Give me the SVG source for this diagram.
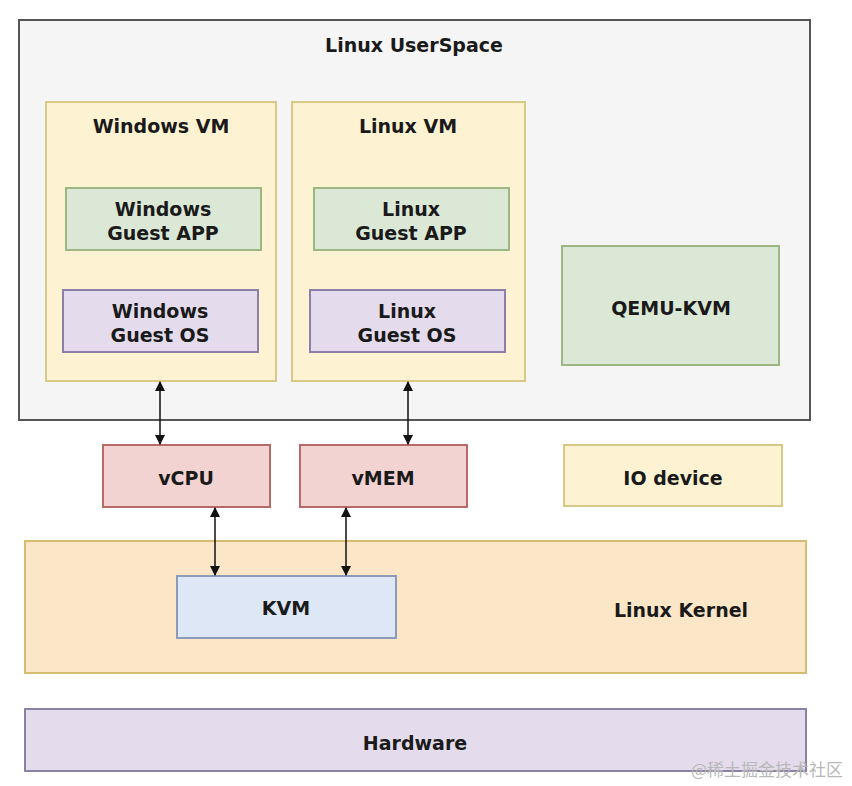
<svg xmlns="http://www.w3.org/2000/svg" width="852" height="786" viewBox="0 0 852 786">
<defs>
<style>
text{font-family:"DejaVu Sans","Liberation Sans",sans-serif;font-weight:bold;font-size:19px;fill:#1a1a1a;text-anchor:middle;dominant-baseline:central}
.us{fill:#f5f5f5;stroke:#555;stroke-width:2}
.vm{fill:#fdf3d2;stroke:#d8ca86;stroke-width:2}
.app{fill:#dbe8d6;stroke:#9cb684;stroke-width:2}
.os{fill:#e4dcec;stroke:#8c7ea6;stroke-width:2}
.red{fill:#f3d3d2;stroke:#b86a6a;stroke-width:2}
.io{fill:#fdf3d2;stroke:#d8ca86;stroke-width:2}
.kern{fill:#fbe6c8;stroke:#d8bd70;stroke-width:2}
.kvm{fill:#dee7f6;stroke:#8b9bb9;stroke-width:2}
.hw{fill:#e4dcec;stroke:#8a82a2;stroke-width:2}
.conn{stroke:#111;stroke-width:1.5;fill:none;marker-start:url(#ah);marker-end:url(#ah)}
.wm{font-family:"Noto Sans CJK SC","DejaVu Sans",sans-serif;font-weight:normal;font-size:17px;fill:#b8b8b8}
</style>
<marker id="ah" viewBox="0 0 10 10" refX="9" refY="5" markerWidth="10" markerHeight="11" orient="auto-start-reverse" markerUnits="userSpaceOnUse">
<path d="M0,0 L10,5 L0,10 z" fill="#111"/>
</marker>
</defs>
<rect width="852" height="786" fill="#ffffff"/>
<g id="userspace"><rect class="us" x="19" y="20" width="791" height="400"/><text x="414" y="45">Linux UserSpace</text></g>
<g id="windows-vm"><rect class="vm" x="46" y="102" width="230" height="279"/><text x="161" y="126">Windows VM</text></g>
<g id="linux-vm"><rect class="vm" x="292" y="102" width="233" height="279"/><text x="408" y="126">Linux VM</text></g>
<g id="win-app"><rect class="app" x="66" y="188" width="195" height="62"/><text x="163" y="209">Windows</text><text x="163" y="233">Guest APP</text></g>
<g id="win-os"><rect class="os" x="63" y="290" width="195" height="62"/><text x="160" y="311">Windows</text><text x="160" y="335">Guest OS</text></g>
<g id="linux-app"><rect class="app" x="314" y="188" width="195" height="62"/><text x="411" y="209">Linux</text><text x="411" y="233">Guest APP</text></g>
<g id="linux-os"><rect class="os" x="310" y="290" width="195" height="62"/><text x="407" y="311">Linux</text><text x="407" y="335">Guest OS</text></g>
<g id="qemu"><rect class="app" x="562" y="246" width="217" height="119"/><text x="671" y="308">QEMU-KVM</text></g>
<g id="vcpu"><rect class="red" x="103" y="445" width="167" height="62"/><text x="186" y="478">vCPU</text></g>
<g id="vmem"><rect class="red" x="300" y="445" width="167" height="62"/><text x="383" y="478">vMEM</text></g>
<g id="io"><rect class="io" x="564" y="445" width="218" height="61"/><text x="673" y="478">IO device</text></g>
<g id="kernel"><rect class="kern" x="25" y="541" width="781" height="132"/><text x="681" y="610">Linux Kernel</text></g>
<g id="kvm"><rect class="kvm" x="177" y="576" width="219" height="62"/><text x="286" y="608">KVM</text></g>
<g id="hardware"><rect class="hw" x="25" y="709" width="781" height="62"/><text x="415" y="743">Hardware</text></g>
<g id="connectors">
<line class="conn" x1="160" y1="382" x2="160" y2="444"/>
<line class="conn" x1="408" y1="382" x2="408" y2="444"/>
<line class="conn" x1="215" y1="508" x2="215" y2="575"/>
<line class="conn" x1="346" y1="508" x2="346" y2="575"/>
</g>
<text class="wm" x="767" y="768">@稀土掘金技术社区</text>
</svg>
